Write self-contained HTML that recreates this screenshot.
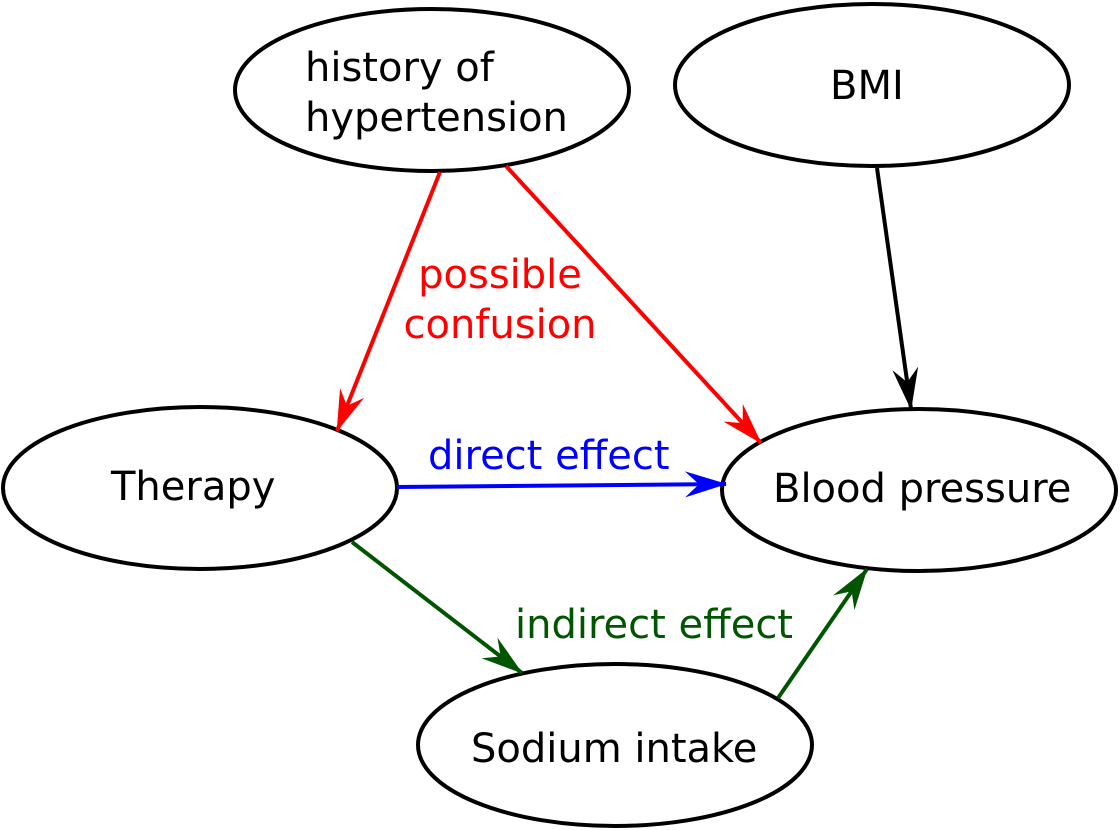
<!DOCTYPE html>
<html><head><meta charset="utf-8"><style>
html,body{margin:0;padding:0;background:#fff;}
svg{display:block;}
text{font-family:"DejaVu Sans","Liberation Sans",sans-serif;font-size:40px;}
</style></head><body>
<svg width="1120" height="830" viewBox="0 0 1120 830">
<defs>
<marker id="ar" viewBox="0 0 42 26" refX="41" refY="13" markerWidth="42" markerHeight="26" markerUnits="userSpaceOnUse" orient="auto"><path d="M0,0 L42,13 L0,26 L14,13 Z" fill="red"/></marker>
<marker id="ak" viewBox="0 0 42 26" refX="41" refY="13" markerWidth="42" markerHeight="26" markerUnits="userSpaceOnUse" orient="auto"><path d="M0,0 L42,13 L0,26 L14,13 Z" fill="#000"/></marker>
<marker id="ab" viewBox="0 0 42 26" refX="41" refY="13" markerWidth="42" markerHeight="26" markerUnits="userSpaceOnUse" orient="auto"><path d="M0,0 L42,13 L0,26 L14,13 Z" fill="#00f"/></marker>
<marker id="ag" viewBox="0 0 42 26" refX="41" refY="13" markerWidth="42" markerHeight="26" markerUnits="userSpaceOnUse" orient="auto"><path d="M0,0 L42,13 L0,26 L14,13 Z" fill="#005500"/></marker>
</defs>
<g fill="#fff" stroke="#000" stroke-width="4">
<ellipse cx="432" cy="90" rx="197" ry="81"/>
<ellipse cx="872" cy="85" rx="197" ry="81"/>
<ellipse cx="200" cy="488" rx="197" ry="81"/>
<ellipse cx="919" cy="490" rx="197" ry="81"/>
<ellipse cx="615" cy="745" rx="197" ry="81"/>
</g>
<g stroke-width="4" fill="none">
<line x1="440" y1="172" x2="337" y2="431" stroke="red" marker-end="url(#ar)"/>
<line x1="506" y1="166" x2="761" y2="443" stroke="red" marker-end="url(#ar)"/>
<line x1="877" y1="168" x2="911" y2="409" stroke="#000" marker-end="url(#ak)"/>
<line x1="397" y1="487" x2="726" y2="484" stroke="#00f" marker-end="url(#ab)"/>
<line x1="352" y1="542" x2="522" y2="673" stroke="#005500" marker-end="url(#ag)"/>
<line x1="778" y1="698" x2="867" y2="569" stroke="#005500" marker-end="url(#ag)"/>
</g>
<text x="305" y="81">history of</text>
<text x="305" y="131">hypertension</text>
<text x="830" y="99">BMI</text>
<text x="111" y="500">Therapy</text>
<text x="773" y="502">Blood pressure</text>
<text x="471" y="762">Sodium intake</text>
<text x="500" y="288" fill="red" text-anchor="middle">possible</text>
<text x="500" y="338" fill="red" text-anchor="middle">confusion</text>
<text x="428" y="469" fill="#00f">direct effect</text>
<text x="515" y="638" fill="#005500">indirect effect</text>
</svg>
</body></html>
